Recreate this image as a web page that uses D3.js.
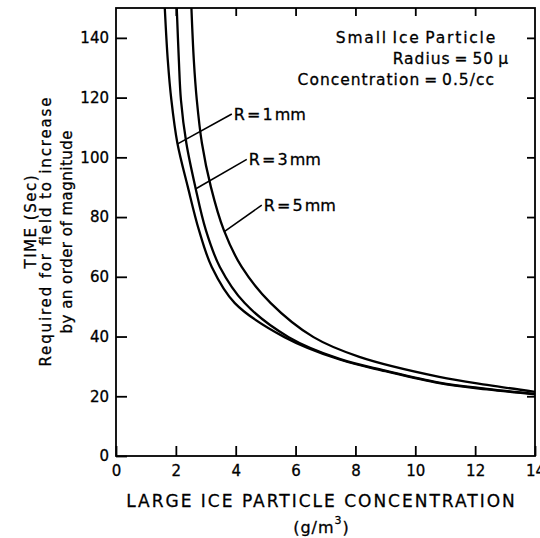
<!DOCTYPE html>
<html>
<head>
<meta charset="utf-8">
<script src="https://cdn.jsdelivr.net/npm/d3@7"></script>
<style>
  body { margin: 0; background: #fff; }
  svg text { font-family: "DejaVu Sans", sans-serif; fill: #000; }
</style>
</head>
<body>
<div id="chart"></div>
<script>
// values (x in g/m3, time in sec)
const r1x = [1.63, 1.73, 1.85, 2.05, 2.40, 2.77, 3.2, 3.97, 5.63, 7.47, 9.0, 10.8, 12.4, 14];
const r1y = [150, 132.6, 119.2, 104.8, 90.1, 75.7, 63.3, 51.2, 39.8, 32.3, 28.4, 24.4, 22.3, 20.6];
const r3x = [2.03, 2.1, 2.17, 2.35, 2.65, 3.0, 3.47, 4.3, 5.77, 7.47, 9.0, 10.8, 12.4, 14];
const r3y = [150, 132.6, 119.2, 104.8, 90.1, 75.7, 63.3, 51.2, 39.8, 32.5, 28.6, 24.6, 22.5, 20.8];
const r5x = [2.52, 2.6, 2.7, 2.87, 3.17, 3.6, 4.2, 5.17, 6.6, 8.13, 10.8, 12.4, 14];
const r5y = [150, 132.6, 119.2, 104.8, 90.1, 75.7, 63.3, 51.2, 39.8, 33.2, 26.5, 23.8, 21.5];

const curveNames = ["R = 1 mm", "R = 3 mm", "R = 5 mm"];
// where each leader line touches its curve, and where the label sits
const leaderFrom = [[2.06, 104.5], [2.67, 89.5], [3.63, 75.2]];
const leaderTo = [[3.87, 114.5], [4.37, 99.3], [4.87, 84]];

const xTicks = [0, 2, 4, 6, 8, 10, 12, 14];
const yTicks = [0, 20, 40, 60, 80, 100, 120, 140];
const noteLines = ["Small Ice Particle", "Radius = 50 \u03bc", "Concentration = 0.5/cc"];
const yTitles = ["TIME (Sec)", "Required for field to increase", "by an order of magnitude"];

const margin = { top: 8, right: 5, bottom: 82, left: 116 };
const W = 540, H = 538;
const width = W - margin.left - margin.right;
const height = H - margin.top - margin.bottom;

const root = d3.select("#chart").append("svg")
    .attr("width", W).attr("height", H);
const svg = root.append("g")
    .attr("transform", `translate(${margin.left},${margin.top})`);

const x = d3.scaleLinear().domain([0, 14]).range([0, width]);
const y = d3.scaleLinear().domain([0, 150]).range([height, 0]);

// frame
svg.append("rect")
    .attr("width", width).attr("height", height)
    .attr("fill", "none").attr("stroke", "#000").attr("stroke-width", 1.8);

// axes, ticks pointing inward on all four sides
const styleAxis = g => {
    g.select(".domain").remove();
    g.selectAll(".tick line").attr("stroke", "#000").attr("stroke-width", 1.8);
    g.selectAll("text").attr("font-size", 15).attr("font-family", "DejaVu Sans")
        .attr("stroke", "#000").attr("stroke-width", 0.3);
};
svg.append("g")
    .call(d3.axisLeft(y).tickValues(yTicks).tickSize(-11).tickPadding(7))
    .call(styleAxis);
svg.append("g").attr("transform", `translate(0,${height})`)
    .call(d3.axisBottom(x).tickValues(xTicks).tickSize(-10).tickPadding(9))
    .call(styleAxis);
svg.append("g")
    .call(d3.axisTop(x).tickValues(xTicks.slice(1, -1)).tickSize(-8).tickFormat(""))
    .call(styleAxis);
svg.append("g").attr("transform", `translate(${width},0)`)
    .call(d3.axisRight(y).tickValues(yTicks.slice(1)).tickSize(-8).tickFormat(""))
    .call(styleAxis);

// curves
const line = d3.line().x(d => x(d[0])).y(d => y(d[1])).curve(d3.curveCatmullRom.alpha(0.5));
[[r1x, r1y], [r3x, r3y], [r5x, r5y]].forEach(([xs, ys]) => {
    const pts = xs.map((v, i) => [v, ys[i]]);
    svg.append("path")
        .datum(pts)
        .attr("d", line)
        .attr("fill", "none")
        .attr("stroke", "#000")
        .attr("stroke-width", 2.3);
});

// leaders and labels
curveNames.forEach((name, i) => {
    svg.append("line")
        .attr("x1", x(leaderFrom[i][0])).attr("y1", y(leaderFrom[i][1]))
        .attr("x2", x(leaderTo[i][0])).attr("y2", y(leaderTo[i][1]))
        .attr("stroke", "#000").attr("stroke-width", 1.6);
    svg.append("text")
        .attr("x", x(leaderTo[i][0]) + 2).attr("y", y(leaderTo[i][1]))
        .attr("dominant-baseline", "central")
        .attr("font-size", 16).attr("word-spacing", -3)
        .attr("stroke", "#000").attr("stroke-width", 0.3)
        .text(name);
});

// note in the top right corner
noteLines.forEach((t, i) => {
    svg.append("text")
        .attr("x", [381, 393, 379][i]).attr("y", 30 + i * 21)
        .attr("dominant-baseline", "central")
        .attr("text-anchor", "end")
        .attr("font-size", 15.5).attr("letter-spacing", [1.8, 1, 1][i]).attr("word-spacing", -2)
        .attr("stroke", "#000").attr("stroke-width", 0.3)
        .text(t);
});

// axis titles
svg.append("text")
    .attr("x", width / 2 - 4).attr("y", height + 45)
    .attr("text-anchor", "middle").attr("dominant-baseline", "central")
    .attr("font-size", 17).attr("letter-spacing", 2)
    .attr("stroke", "#000").attr("stroke-width", 0.3)
    .text("LARGE ICE PARTICLE CONCENTRATION");
const unit = svg.append("text")
    .attr("x", width / 2 - 4).attr("y", height + 71)
    .attr("text-anchor", "middle").attr("dominant-baseline", "central")
    .attr("font-size", 16).attr("letter-spacing", 1)
    .attr("stroke", "#000").attr("stroke-width", 0.3);
unit.append("tspan").text("(g/m");
unit.append("tspan").attr("dy", -7).attr("font-size", 11).text("3");
unit.append("tspan").attr("dy", 7).text(")");

// y titles, placed in page pixels
const titleX = [31, 46, 67];
const titleY = [222, 232, 232];
const titleLen = [93, 269, 203];
yTitles.forEach((t, i) => {
    root.append("text")
        .attr("x", 0).attr("y", 0)
        .attr("transform", `translate(${titleX[i]},${titleY[i]}) rotate(-90)`)
        .attr("text-anchor", "middle").attr("dominant-baseline", "central")
        .attr("font-size", 15)
        .attr("textLength", titleLen[i]).attr("lengthAdjust", "spacing")
        .attr("stroke", "#000").attr("stroke-width", 0.3)
        .text(t);
});
</script>
</body>
</html>
